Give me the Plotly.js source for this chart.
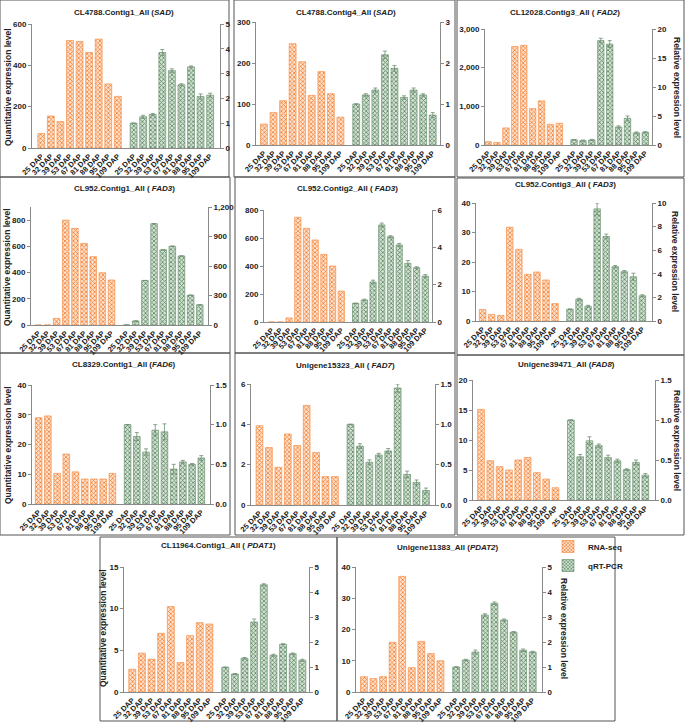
<!DOCTYPE html>
<html><head><meta charset="utf-8">
<script src="https://cdn.plot.ly/plotly-3.0.1.min.js"></script>
<style>body{margin:0;background:#fff}#c{width:685px;height:723px}</style>
</head><body><div id="c"></div><script>
const days = ["25 DAP","32 DAP","39 DAP","53 DAP","67 DAP","81 DAP","88 DAP","95 DAP","109 DAP"];
const seriesNames = ["RNA-seq","qRT-PCR"];
const leftTitle = "Quantitative expression level";
const rightTitle = "Relative expression level";

const titles = [
 "CL4788.Contig1_All (<i>SAD</i>)",
 "CL4788.Contig4_All (<i>SAD</i>)",
 "CL12028.Contig3_All ( <i>FAD2</i>)",
 "CL952.Contig1_All ( <i>FAD3</i>)",
 "CL952.Contig2_All ( <i>FAD3</i>)",
 "CL952.Contig3_All ( <i>FAD3</i>)",
 "CL8329.Contig1_All (<i>FAD6</i>)",
 "Unigene15323_All ( <i>FAD7</i>)",
 "Unigene39471_All (<i>FAD8</i>)",
 "CL11964.Contig1_All ( <i>PDAT1</i>)",
 "Unigene11383_All (<i>PDAT2</i>)"
];

const rna1 = [70,155,128,520,515,462,527,310,250];
const qpcr1 = [1.0,1.26,1.35,3.85,3.12,2.55,3.27,2.08,2.13];
const err1 = [0,0.06,0.04,0.12,0.07,0.04,0.04,0.1,0.08];

const rna2 = [51,79,108,247,203,121,179,125,68];
const qpcr2 = [1.0,1.22,1.34,2.2,1.87,1.16,1.34,1.22,0.73];
const err2 = [0,0.03,0.05,0.09,0.07,0.04,0.05,0.03,0.06];

const rna3 = [86,65,441,2550,2576,942,1141,536,562];
const qpcr3 = [0.9,0.75,0.86,18.0,17.4,3.1,4.6,2.1,2.2];
const err3 = [0,0.1,0.1,0.4,0.6,0.2,0.4,0.15,0.1];

const rna4 = [0,0,51,800,737,622,521,399,343];
const qpcr4 = [0,41,453,1030,764,801,702,303,205];
const err4 = [0,0,0,0,0,0,0,0,0];

const rna5 = [0,0,29,748,669,586,483,400,221];
const qpcr5 = [1.0,1.18,2.14,5.2,4.57,4.13,3.14,2.91,2.46];
const err5 = [0,0.04,0.1,0.1,0.05,0.08,0.15,0.05,0.08];

const rna6 = [3.9,2.2,1.9,31.8,24.3,15.8,16.6,13.9,5.9];
const qpcr6 = [1.0,1.85,1.25,9.5,7.16,4.6,4.18,3.75,2.14];
const err6 = [0,0.08,0.08,0.5,0.2,0.1,0.1,0.3,0.08];

const rna7 = [29.0,29.6,10.3,16.8,10.8,8.4,8.4,8.4,10.3];
const qpcr7 = [1.0,0.85,0.655,0.93,0.91,0.44,0.53,0.5,0.58];
const err7 = [0,0.05,0.04,0.07,0.1,0.06,0.02,0.01,0.03];

const rna8 = [3.93,2.85,1.87,3.52,2.95,4.94,2.6,1.41,1.41];
const qpcr8 = [1.0,0.73,0.53,0.62,0.67,1.45,0.38,0.28,0.18];
const err8 = [0,0.03,0.03,0.02,0.03,0.05,0.04,0.03,0.03];

const rna9 = [15.1,6.55,5.56,5.0,6.67,7.1,4.56,3.5,2.05];
const qpcr9 = [1.0,0.54,0.74,0.68,0.53,0.49,0.38,0.47,0.31];
const err9 = [0,0.03,0.05,0.02,0.03,0.02,0.01,0.03,0.02];

const rna10 = [2.73,4.66,3.94,7.04,10.25,3.54,6.76,8.32,8.16];
const qpcr10 = [0.99,0.72,1.35,2.8,4.29,1.47,1.91,1.53,1.27];
const err10 = [0,0.02,0.03,0.12,0.04,0.04,0.02,0.03,0.04];

const rna11 = [4.9,4.3,4.9,15.9,37.0,7.8,16.2,12.3,10.0];
const qpcr11 = [1.0,1.28,1.6,3.08,3.55,2.88,2.39,1.67,1.6];
const err11 = [0,0.03,0.08,0.05,0.05,0.04,0.03,0.05,0.03];

const W = 685, H = 723;
const GREEN_OFFSET = 9.65;
// layout geometry (pixels)
const geo = [
 {rna:rna1,q:qpcr1,e:err1, tx:124,ty:12, px:[32,220], py:[24,148], yl:[0,600],dl:200, yr:[0,5],dr:1, xr:[-0.97,18.68], lt:[8,87], rt:null},
 {rna:rna2,q:qpcr2,e:err2, tx:346,ty:12, px:[256,440], py:[22,145], yl:[0,300],dl:100, yr:[0,3],dr:1, xr:[-0.83,18.41], lt:null, rt:null},
 {rna:rna3,q:qpcr3,e:err3, tx:565,ty:12, px:[485,652], py:[29,145], yl:[0,3000],dl:1000, yr:[0,20],dr:5, xr:[-0.35,18.4], lt:null, rt:[677,87]},
 {rna:rna4,q:qpcr4,e:err4, tx:124,ty:189, px:[31,208], py:[207,325], yl:[0,900],dl:200, yr:[0,1200],dr:300, xr:[-0.8,18.55], lt:[7,267], rt:null},
 {rna:rna5,q:qpcr5,e:err5, tx:347,ty:189, px:[264,432], py:[210,322], yl:[0,800],dl:200, yr:[0,6],dr:2, xr:[-0.88,18.42], lt:null, rt:null},
 {rna:rna6,q:qpcr6,e:err6, tx:565,ty:185, px:[476,652], py:[203,321], yl:[0,40],dl:10, yr:[0,10],dr:2, xr:[-0.73,18.71], lt:null, rt:[675,261]},
 {rna:rna7,q:qpcr7,e:err7, tx:123,ty:364, px:[32,210], py:[385,504], yl:[0,40],dl:10, yr:[0,1.5],dr:0.5, xr:[-0.72,18.59], lt:[8,445], rt:null, rf:'.1f'},
 {rna:rna8,q:qpcr8,e:err8, tx:345,ty:365, px:[251,435], py:[384,505], yl:[0,6],dl:2, yr:[0,1.5],dr:0.5, xr:[-0.9,18.61], lt:null, rt:null, rf:'.1f'},
 {rna:rna9,q:qpcr9,e:err9, tx:566,ty:364, px:[473,655], py:[380,500], yl:[0,20],dl:5, yr:[0,1.5],dr:0.5, xr:[-0.86,18.69], lt:null, rt:[677,440], rf:'.1f'},
 {rna:rna10,q:qpcr10,e:err10, tx:218,ty:545, px:[124,309], py:[567,692], yl:[0,15],dl:5, yr:[0,5],dr:1, xr:[-0.86,18.34], lt:[103,628], rt:null},
 {rna:rna11,q:qpcr11,e:err11, tx:448,ty:547, px:[356,542], py:[567,692], yl:[0,40],dl:10, yr:[0,5],dr:1, xr:[-0.83,18.62], lt:null, rt:[564,628]}
];
const boxes = [
 [0,0,229,177],[234,0,455,177],[457,0,684,177],
 [0,177,230,353],[235,177,455,353],[457,178,684,355],
 [0,353,230,535],[235,353,455,535],[457,355,684,535],
 [100,537,337,721],[337,537,615,721]
];

const FONT = "Liberation Sans, Arial, sans-serif";
const AX = '#8a8a8a';
const traces = [];
const layout = {
  width: W, height: H, margin:{l:0,r:0,t:0,b:0},
  paper_bgcolor:'#fff', plot_bgcolor:'rgba(0,0,0,0)',
  barmode:'overlay', showlegend:true,
  font:{family:FONT, size:8, color:'#222'},
  legend:{x:548/W, y:1-532/H, xanchor:'left', yanchor:'top', bgcolor:'rgba(0,0,0,0)',
          font:{family:FONT,size:8,color:'#222',weight:'bold'}, itemwidth:30, tracegroupgap:0},
  annotations:[], shapes:[]
};
const rx = days.map((d,i)=>i);
const gx = days.map((d,i)=>i+GREEN_OFFSET);
const tickFont = {family:FONT, size:8, color:'#222', weight:'bold'};

geo.forEach((g,k)=>{
  const n = k+1;
  const xa = 'x'+(n===1?'':n);
  const yl = 2*n-1, yr = 2*n;
  const yla = 'y'+(yl===1?'':yl), yra = 'y'+yr;
  const last = (n===11);
  traces.push({type:'bar', x:rx, y:g.rna, xaxis:xa, yaxis:yla, width:0.72, name:seriesNames[0],
    showlegend:last, legendrank:1,
    marker:{color:'#f7a469', line:{color:'#f5904a', width:0.7},
      pattern:{shape:'x', fgcolor:'#f37c2e', bgcolor:'#fde3cf', size:3, solidity:0.45}}});
  traces.push({type:'bar', x:gx, y:g.q, xaxis:xa, yaxis:yra, width:0.72, name:seriesNames[1],
    showlegend:last, legendrank:2,
    marker:{color:'#90b093', line:{color:'#6d9372', width:0.7},
      pattern:{shape:'x', fgcolor:'#5b8660', bgcolor:'#d3e2d4', size:3, solidity:0.45}},
    error_y:{type:'data', array:g.e, visible:true, color:'#6d8f71', thickness:0.8, width:2}});
  const yDom = [1-g.py[1]/H, 1-g.py[0]/H];
  layout['xaxis'+(n===1?'':n)] = {domain:[g.px[0]/W, g.px[1]/W], anchor:yla, range:g.xr, fixedrange:true,
    tickvals:rx.concat(gx), ticktext:days.concat(days), tickangle:-45, tickfont:{family:FONT,size:7.5,color:'#222',weight:'bold'},
    showline:true, linecolor:AX, linewidth:1, ticks:'', showgrid:false, zeroline:false};
  layout['yaxis'+(yl===1?'':yl)] = {domain:yDom, anchor:xa, range:g.yl, dtick:g.dl, tick0:0,
    showline:true, linecolor:AX, linewidth:1, ticks:'outside', ticklen:3, tickcolor:AX,
    tickfont:tickFont, showgrid:false, zeroline:false, separatethousands:true, tickformat:',d'};
  layout['yaxis'+yr] = {overlaying:yla, side:'right', anchor:xa, range:g.yr, dtick:g.dr, tick0:0,
    showline:true, linecolor:AX, linewidth:1, ticks:'outside', ticklen:3, tickcolor:AX,
    tickfont:tickFont, showgrid:false, zeroline:false, separatethousands:true, tickformat:g.rf||',~r'};
  layout.annotations.push({text:'<b>'+titles[k]+'</b>', x:g.tx/W, y:1-g.ty/H, xref:'paper', yref:'paper',
    showarrow:false, xanchor:'center', yanchor:'middle', font:{family:FONT,size:8,color:'#222'}});
  if (g.lt) layout.annotations.push({text:'<b>'+leftTitle+'</b>', x:g.lt[0]/W, y:1-g.lt[1]/H, xref:'paper', yref:'paper',
    showarrow:false, textangle:-90, xanchor:'center', yanchor:'middle', font:{family:FONT,size:8.5,color:'#222'}});
  if (g.rt) layout.annotations.push({text:'<b>'+rightTitle+'</b>', x:g.rt[0]/W, y:1-g.rt[1]/H, xref:'paper', yref:'paper',
    showarrow:false, textangle:90, xanchor:'center', yanchor:'middle', font:{family:FONT,size:8.5,color:'#222'}});
});
boxes.forEach(b=>{
  layout.shapes.push({type:'rect', xref:'paper', yref:'paper', x0:b[0]/W, x1:b[2]/W, y0:1-b[3]/H, y1:1-b[1]/H,
    line:{color:'#555', width:1}, fillcolor:'rgba(0,0,0,0)', layer:'below'});
});
Plotly.newPlot('c', traces, layout, {displayModeBar:false, staticPlot:true});
</script></body></html>
